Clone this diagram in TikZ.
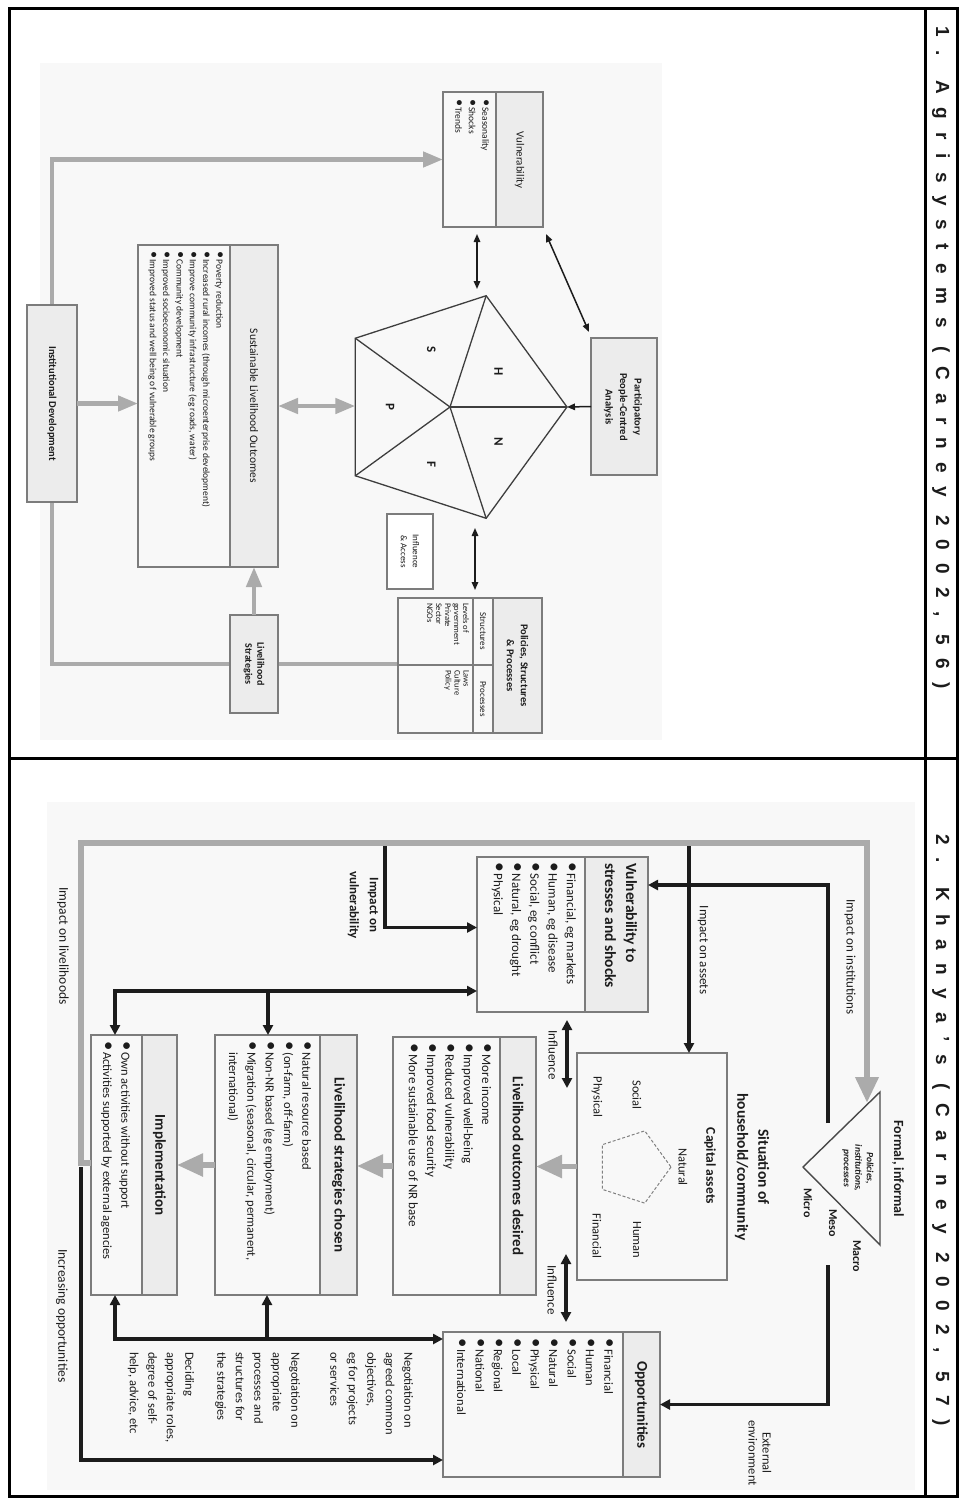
\documentclass[tikz,border=0pt]{standalone}
\usepackage{fontspec}
\setmainfont{Carlito}
\newfontfamily\headfont{Liberation Sans}[LetterSpace=70]
\usetikzlibrary{arrows.meta,calc}

\definecolor{panel}{HTML}{F8F8F8}
\definecolor{hdrgray}{HTML}{ECECEC}
\definecolor{boxgray}{HTML}{7C7C7C}
\definecolor{flowgray}{HTML}{ABABAB}
\definecolor{ink}{HTML}{1C1C1C}

\newcommand\bul{\makebox[0.9em][l]{\scalebox{1.5}{\textbullet}}}

\tikzset{
  box/.style={draw=boxgray, line width=1.3pt, inner sep=0pt, outer sep=0pt, anchor=north west},
  greybox/.style={box, fill=hdrgray},
  rule/.style={draw=boxgray, line width=1.3pt},
  rt/.style={rotate=-90, text=ink, inner sep=0pt, outer sep=0pt},
  flow/.style={draw=flowgray, line width=4.5pt},
  flowarr/.style={flow, -{Triangle[length=20pt,width=15pt]}},
  flowdbl/.style={flow, {Triangle[length=20pt,width=15pt]}-{Triangle[length=20pt,width=15pt]}},
  bflow/.style={draw=flowgray, line width=5.5pt},
  bflowarr/.style={bflow, -{Triangle[length=26pt,width=22pt]}},
  link/.style={draw=ink, line width=3.2pt},
  linkarr/.style={link, -{Triangle[length=10pt,width=10pt]}},
  linkdbl/.style={link, {Triangle[length=10pt,width=10pt]}-{Triangle[length=10pt,width=10pt]}},
  fine/.style={draw=ink, line width=1.5pt},
  finearr/.style={fine, -{Triangle[length=8pt,width=6.5pt]}},
  finedbl/.style={fine, {Triangle[length=8pt,width=6.5pt]}-{Triangle[length=8pt,width=6.5pt]}},
}

\begin{document}
\begin{tikzpicture}[x=1pt, y=-1pt, line join=miter]
\useasboundingbox (0,0) rectangle (961,1502);
\fill[white] (0,0) rectangle (961,1502);

% ---------------- table frame ----------------
\draw[line width=3pt] (9,8) rectangle (957,1496);
\draw[line width=3pt] (925,8) -- (925,1496);
\draw[line width=3pt] (9,758) -- (957,758);
\node[rt, font=\headfont\bfseries\fontsize{19}{22}\selectfont] (head1) at (941,358) {1. Agrisystems (Carney 2002, 56)};
\node[rt, font=\headfont\bfseries\fontsize{19}{22}\selectfont] (head2) at (941,1130) {2. Khanya’s (Carney 2002, 57)};

% ================= Agrisystems framework =================
\fill[panel] (40,63) rectangle (662,740);

% grey loop behind the boxes
\node[greybox, minimum width=50pt, minimum height=197pt] (instD) at (27,305) {};
\node[greybox, minimum width=48pt, minimum height=98pt] (lsA) at (230,615) {};
\node[box, minimum width=100pt, minimum height=135pt] (vulA) at (443,92) {};
\node[box, minimum width=144pt, minimum height=135pt] (polA) at (398,598) {};
\draw[flow] (lsA.east) -- (lsA.east -| polA.west);
\draw[flow] (lsA.west) -| (instD.south);
\draw[flowarr] (instD.north) |- (vulA.west);

% Vulnerability
\fill[hdrgray] (496,92) rectangle (543,227);
\node[box, minimum width=100pt, minimum height=135pt] (vulAb) at (443,92) {};
\draw[rule] (496,92) -- (496,227);
\node[rt, font=\fontsize{11}{13}\selectfont] (vulAh) at (519.5,160) {Vulnerability};
\node[rt, anchor=north west, align=left, font=\fontsize{9.5}{13.5}\selectfont] (vulAl) at (489,99)
  {\bul Seasonality\\\bul Shocks\\\bul Trends};

% Institutional development
\node[greybox, minimum width=50pt, minimum height=197pt] (instDb) at (27,305) {};
\node[rt, font=\bfseries\fontsize{10.5}{13}\selectfont] (instDt) at (52,403.5) {Institutional Development};

% Sustainable livelihood outcomes
\fill[hdrgray] (230,245) rectangle (278,567);
\node[box, minimum width=140pt, minimum height=322pt] (sloA) at (138,245) {};
\draw[rule] (230,245) -- (230,567);
\node[rt, font=\fontsize{11.5}{13}\selectfont] (sloAh) at (254,406) {Sustainable Livelihood Outcomes};
\node[rt, anchor=north west, align=left, font=\fontsize{9.5}{13.3}\selectfont] (sloAl) at (223,251)
  {\bul Poverty reduction\\
   \bul Increased rural incomes (through microenterprise development)\\
   \bul Improve community infrastructure (eg roads, water)\\
   \bul Community development\\
   \bul Improved socioeconomic situation\\
   \bul Improved status and well being of vulnerable groups};

% Livelihood strategies
\node[greybox, minimum width=48pt, minimum height=98pt] (lsAb) at (230,615) {};
\node[rt, align=center, font=\bfseries\fontsize{10}{12}\selectfont] (lsAt) at (254,664) {Livelihood\\Strategies};

% Participatory analysis
\node[greybox, minimum width=66pt, minimum height=137pt] (ppca) at (591,338) {};
\node[rt, align=center, font=\bfseries\fontsize{10.5}{14.5}\selectfont] (ppcat) at (623,407)
  {Participatory\\People-Centred\\Analysis};

% Policies, structures & processes
\fill[hdrgray] (493,598) rectangle (542,733);
\node[box, minimum width=144pt, minimum height=135pt] (polAb) at (398,598) {};
\draw[rule] (493,598) -- (493,733);
\draw[rule] (473,598) -- (473,733);
\draw[rule] (398,665) -- (493,665);
\node[rt, align=center, font=\bfseries\fontsize{10.5}{14}\selectfont] (polAh) at (517.5,665.5)
  {Policies, Structures\\\& Processes};
\node[rt, font=\fontsize{9}{10}\selectfont] (polS) at (483,631) {Structures};
\node[rt, font=\fontsize{9}{10}\selectfont] (polP) at (483,699) {Processes};
\node[rt, anchor=north west, align=left, font=\fontsize{8.5}{9}\selectfont] (polSl) at (469,603)
  {Levels of\\government\\Private\\Sector\\NGOs};
\node[rt, anchor=north west, align=left, font=\fontsize{8.5}{9}\selectfont] (polPl) at (469,670)
  {Laws\\Culture\\Policy};

% Influence & access
\node[box, fill=white, minimum width=46pt, minimum height=75pt] (infA) at (387,514) {};
\node[rt, align=center, font=\fontsize{9}{12}\selectfont] (infAt) at (410,551.5) {Influence\\\& Access};

% asset pentagon
\coordinate (pc) at (450,407);
\foreach \i/\a in {0/0,1/72,2/144,3/216,4/288} { \path (pc) ++(\a:117) coordinate (p\i); }
\draw[draw=ink!85, line width=1.3pt] (p0) -- (p1) -- (p2) -- (p3) -- (p4) -- cycle;
\foreach \i in {0,...,4} { \draw[draw=ink!85, line width=1.3pt] (pc) -- (p\i); }
\path (pc) ++(324:60) node[rt, font=\bfseries\fontsize{13}{13}\selectfont] (capH) {H};
\path (pc) ++(36:60)  node[rt, font=\bfseries\fontsize{13}{13}\selectfont] (capN) {N};
\path (pc) ++(108:60) node[rt, font=\bfseries\fontsize{13}{13}\selectfont] (capF) {F};
\path (pc) ++(180:60) node[rt, font=\bfseries\fontsize{13}{13}\selectfont] (capP) {P};
\path (pc) ++(252:60) node[rt, font=\bfseries\fontsize{13}{13}\selectfont] (capS) {S};

% grey flows
\draw[flowarr] (instD.east) -- (instD.east -| sloA.west);
\draw[flowdbl] (sloA.east) -- (sloA.east -| p2);
\draw[flowarr] (lsA.north) -- (lsA.north |- sloA.south);

% black links
\draw[finearr] (ppca.west) -- (p0);
\coordinate (va1) at (477,234);
\coordinate (va2) at (477,289);
\draw[finedbl] (va1) -- (va2);
\coordinate (vp1) at (546,234);
\coordinate (vp2) at (589,332);
\draw[finedbl] (vp1) -- (vp2);
\coordinate (pp1) at (475,528);
\coordinate (pp2) at (475,590);
\draw[finedbl] (pp1) -- (pp2);

% ================= Khanya framework =================
\fill[panel] (47,802) rectangle (915,1490);

% boxes
\node[box, minimum width=171pt, minimum height=155pt] (vulB) at (477,857) {};
\node[box, minimum width=150pt, minimum height=227pt] (sit) at (577,1053) {};
\node[box, minimum width=143pt, minimum height=258pt] (lod) at (393,1037) {};
\node[box, minimum width=142pt, minimum height=260pt] (lsc) at (215,1035) {};
\node[box, minimum width=86pt, minimum height=260pt] (imp) at (91,1035) {};
\node[box, minimum width=217pt, minimum height=145pt] (opp) at (443,1332) {};

% header strips
\fill[hdrgray] (585,857) rectangle (648,1012);
\fill[hdrgray] (500,1037) rectangle (536,1295);
\fill[hdrgray] (320,1035) rectangle (357,1295);
\fill[hdrgray] (142,1035) rectangle (177,1295);
\fill[hdrgray] (623,1332) rectangle (660,1477);
\node[box, minimum width=171pt, minimum height=155pt] (vulBb) at (477,857) {};
\node[box, minimum width=143pt, minimum height=258pt] (lodb) at (393,1037) {};
\node[box, minimum width=142pt, minimum height=260pt] (lscb) at (215,1035) {};
\node[box, minimum width=86pt, minimum height=260pt] (impb) at (91,1035) {};
\node[box, minimum width=217pt, minimum height=145pt] (oppb) at (443,1332) {};
\draw[rule] (585,857) -- (585,1012);
\draw[rule] (500,1037) -- (500,1295);
\draw[rule] (320,1035) -- (320,1295);
\draw[rule] (142,1035) -- (142,1295);
\draw[rule] (623,1332) -- (623,1477);

% policies triangle
\coordinate (t1) at (880,1092);
\coordinate (t2) at (880,1245);
\coordinate (t3) at (803,1167);
\draw[draw=ink!80, line width=1.4pt] (t1) -- (t2) -- (t3) -- cycle;
\node[rt, font=\bfseries\fontsize{14}{16}\selectfont] (formal) at (898,1169) {Formal, informal};
\node[rt, align=center, font=\bfseries\itshape\fontsize{9.5}{11.5}\selectfont] (pip) at (858,1168)
  {Policies,\\institutions,\\processes};
\node[rt, font=\bfseries\fontsize{12}{12}\selectfont] (macro) at (857,1256) {Macro};
\node[rt, font=\bfseries\fontsize{12}{12}\selectfont] (meso) at (833,1223) {Meso};
\node[rt, font=\bfseries\fontsize{12}{12}\selectfont] (micro) at (808,1203) {Micro};

% situation of household
\node[rt, align=center, font=\bfseries\fontsize{15.5}{21}\selectfont] (sitT) at (752,1167)
  {Situation of\\household/community};
\node[rt, font=\bfseries\fontsize{13.5}{14}\selectfont] (capT) at (710,1166) {Capital assets};
\coordinate (qc) at (633,1167);
\foreach \i/\a in {0/0,1/72,2/144,3/216,4/288} { \path (qc) ++(\a:38) coordinate (q\i); }
\draw[draw=gray, line width=1pt, densely dashed] (q0) -- (q1) -- (q2) -- (q3) -- (q4) -- cycle;
\node[rt, font=\fontsize{12.5}{13}\selectfont] (capNat) at (683,1167) {Natural};
\node[rt, font=\fontsize{12.5}{13}\selectfont] (capSoc) at (637,1095) {Social};
\node[rt, font=\fontsize{12.5}{13}\selectfont] (capPhy) at (597,1097) {Physical};
\node[rt, font=\fontsize{12.5}{13}\selectfont] (capHum) at (637,1240) {Human};
\node[rt, font=\fontsize{12.5}{13}\selectfont] (capFin) at (597,1236) {Financial};

% vulnerability
\node[rt, anchor=north west, align=left, font=\bfseries\fontsize{15.5}{21}\selectfont] (vulBh) at (637,863)
  {Vulnerability to\\stresses and shocks};
\node[rt, anchor=north west, align=left, font=\fontsize{13}{18.3}\selectfont] (vulBl) at (576,862)
  {\bul Financial, eg markets\\\bul Human, eg disease\\\bul Social, eg conflict\\\bul Natural, eg drought\\\bul Physical};

% livelihood outcomes
\node[rt, font=\bfseries\fontsize{15}{16}\selectfont] (lodh) at (518,1166) {Livelihood outcomes desired};
\node[rt, anchor=north west, align=left, font=\fontsize{13}{18.3}\selectfont] (lodl) at (491,1043)
  {\bul More income\\\bul Improved well-being\\\bul Reduced vulnerability\\\bul Improved food security\\\bul More sustainable use of NR base};

% livelihood strategies
\node[rt, font=\bfseries\fontsize{15}{16}\selectfont] (lsch) at (338.5,1165) {Livelihood strategies chosen};
\node[rt, anchor=north west, align=left, font=\fontsize{12.5}{18.3}\selectfont] (lscl) at (311,1041)
  {\bul Natural resource based\\\bul (on-farm, off-farm)\\\bul Non-NR based (eg employment)\\\bul Migration (seasonal, circular, permanent,\\\hphantom{\bul}international)};

% implementation
\node[rt, font=\bfseries\fontsize{15}{16}\selectfont] (imph) at (159.5,1165) {Implementation};
\node[rt, anchor=north west, align=left, font=\fontsize{12.5}{18.3}\selectfont] (impl) at (130,1041)
  {\bul Own activities without support\\\bul Activities supported by external agencies};

% opportunities
\node[rt, font=\bfseries\fontsize{15}{16}\selectfont] (opph) at (641.5,1405) {Opportunities};
\node[rt, anchor=north west, align=left, font=\fontsize{12.5}{18.4}\selectfont] (oppl) at (613,1338)
  {\bul Financial\\\bul Human\\\bul Social\\\bul Natural\\\bul Physical\\\bul Local\\\bul Regional\\\bul National\\\bul International};

% negotiation notes
\node[rt, anchor=north west, align=left, font=\fontsize{12.5}{18.5}\selectfont] (neg1) at (413,1352)
  {Negotiation on\\agreed common\\objectives,\\eg for projects\\or services};
\node[rt, anchor=north west, align=left, font=\fontsize{12.5}{18.5}\selectfont] (neg2) at (300,1352)
  {Negotiation on\\appropriate\\processes and\\structures for\\the strategies};
\node[rt, anchor=north west, align=left, font=\fontsize{12.5}{18.5}\selectfont] (neg3) at (194,1352)
  {Deciding\\appropriate roles,\\degree of self-\\help, advice, etc};

% grey feedback loop
\coordinate (gA) at (81,1163);
\coordinate (gB) at (81,843);
\coordinate (gC) at (867,843);
\coordinate (gD) at (867,1103);
\draw[bflowarr, line width=6.5pt] (imp.west |- gA) -- (gA) -- (gB) -- (gC) -- (gD);
\draw[bflowarr] (sit.west) -- (sit.west -| lod.east);
\draw[bflowarr] (lod.west) -- (lod.west -| lsc.east);
\draw[bflowarr] (lsc.west) -- (lsc.west -| imp.east);

% black links
\coordinate (bA) at (828,1123);
\coordinate (bB) at (828,885);
\draw[linkarr] (bA) -- (bB) -- (bB -| vulB.east);
\coordinate (bC) at (828,1265);
\draw[linkarr] (bC) |- (opp.east);
\coordinate (asA) at (689,846);
\draw[linkarr] (asA) -- (asA |- sit.north);
\coordinate (vlA) at (385,846);
\draw[linkarr] (vlA) |- ($(vulB.west)+(0,-7)$);
\coordinate (sA) at (115,991);
\coordinate (sB) at (268,991);
\draw[linkdbl] (sA |- imp.north) -- (sA) -- (sA -| vulB.west);
\draw[linkarr] (sB) -- (sB |- lsc.north);
\coordinate (nA) at (115,1339);
\coordinate (nB) at (267,1339);
\draw[linkdbl] (nA |- imp.south) -- (nA) -- (nA -| opp.west);
\draw[linkarr] (nB) -- (nB |- lsc.south);
\coordinate (iA) at (81,1167);
\coordinate (iB) at (81,1460);
\draw[linkarr] (iA) -- (iB) -- (iB -| opp.west);
\coordinate (in1) at (567,1020);
\coordinate (in2) at (567,1088);
\draw[linkdbl, line width=3.8pt] (in1) -- (in2);
\coordinate (in3) at (566,1254);
\coordinate (in4) at (566,1322);
\draw[linkdbl, line width=3.8pt] (in3) -- (in4);

% link labels
\node[rt, font=\fontsize{13}{14}\selectfont] (lbInst) at (850,957) {Impact on institutions};
\node[rt, font=\fontsize{13}{14}\selectfont] (lbAss) at (703,950) {Impact on assets};
\node[rt, align=center, font=\bfseries\fontsize{13}{20}\selectfont] (lbVul) at (363,905) {Impact on\\vulnerability};
\node[rt, font=\fontsize{13.5}{14}\selectfont] (lbLiv) at (63,946) {Impact on livelihoods};
\node[rt, font=\fontsize{13.5}{14}\selectfont] (lbOpp) at (62,1316) {Increasing opportunities};
\node[rt, align=center, font=\fontsize{12.5}{14}\selectfont] (lbExt) at (760,1453) {External\\environment};
\node[rt, font=\fontsize{13}{14}\selectfont] (lbInf1) at (553,1055) {Influence};
\node[rt, font=\fontsize{13}{14}\selectfont] (lbInf2) at (552,1290) {Influence};

\end{tikzpicture}
\end{document}
